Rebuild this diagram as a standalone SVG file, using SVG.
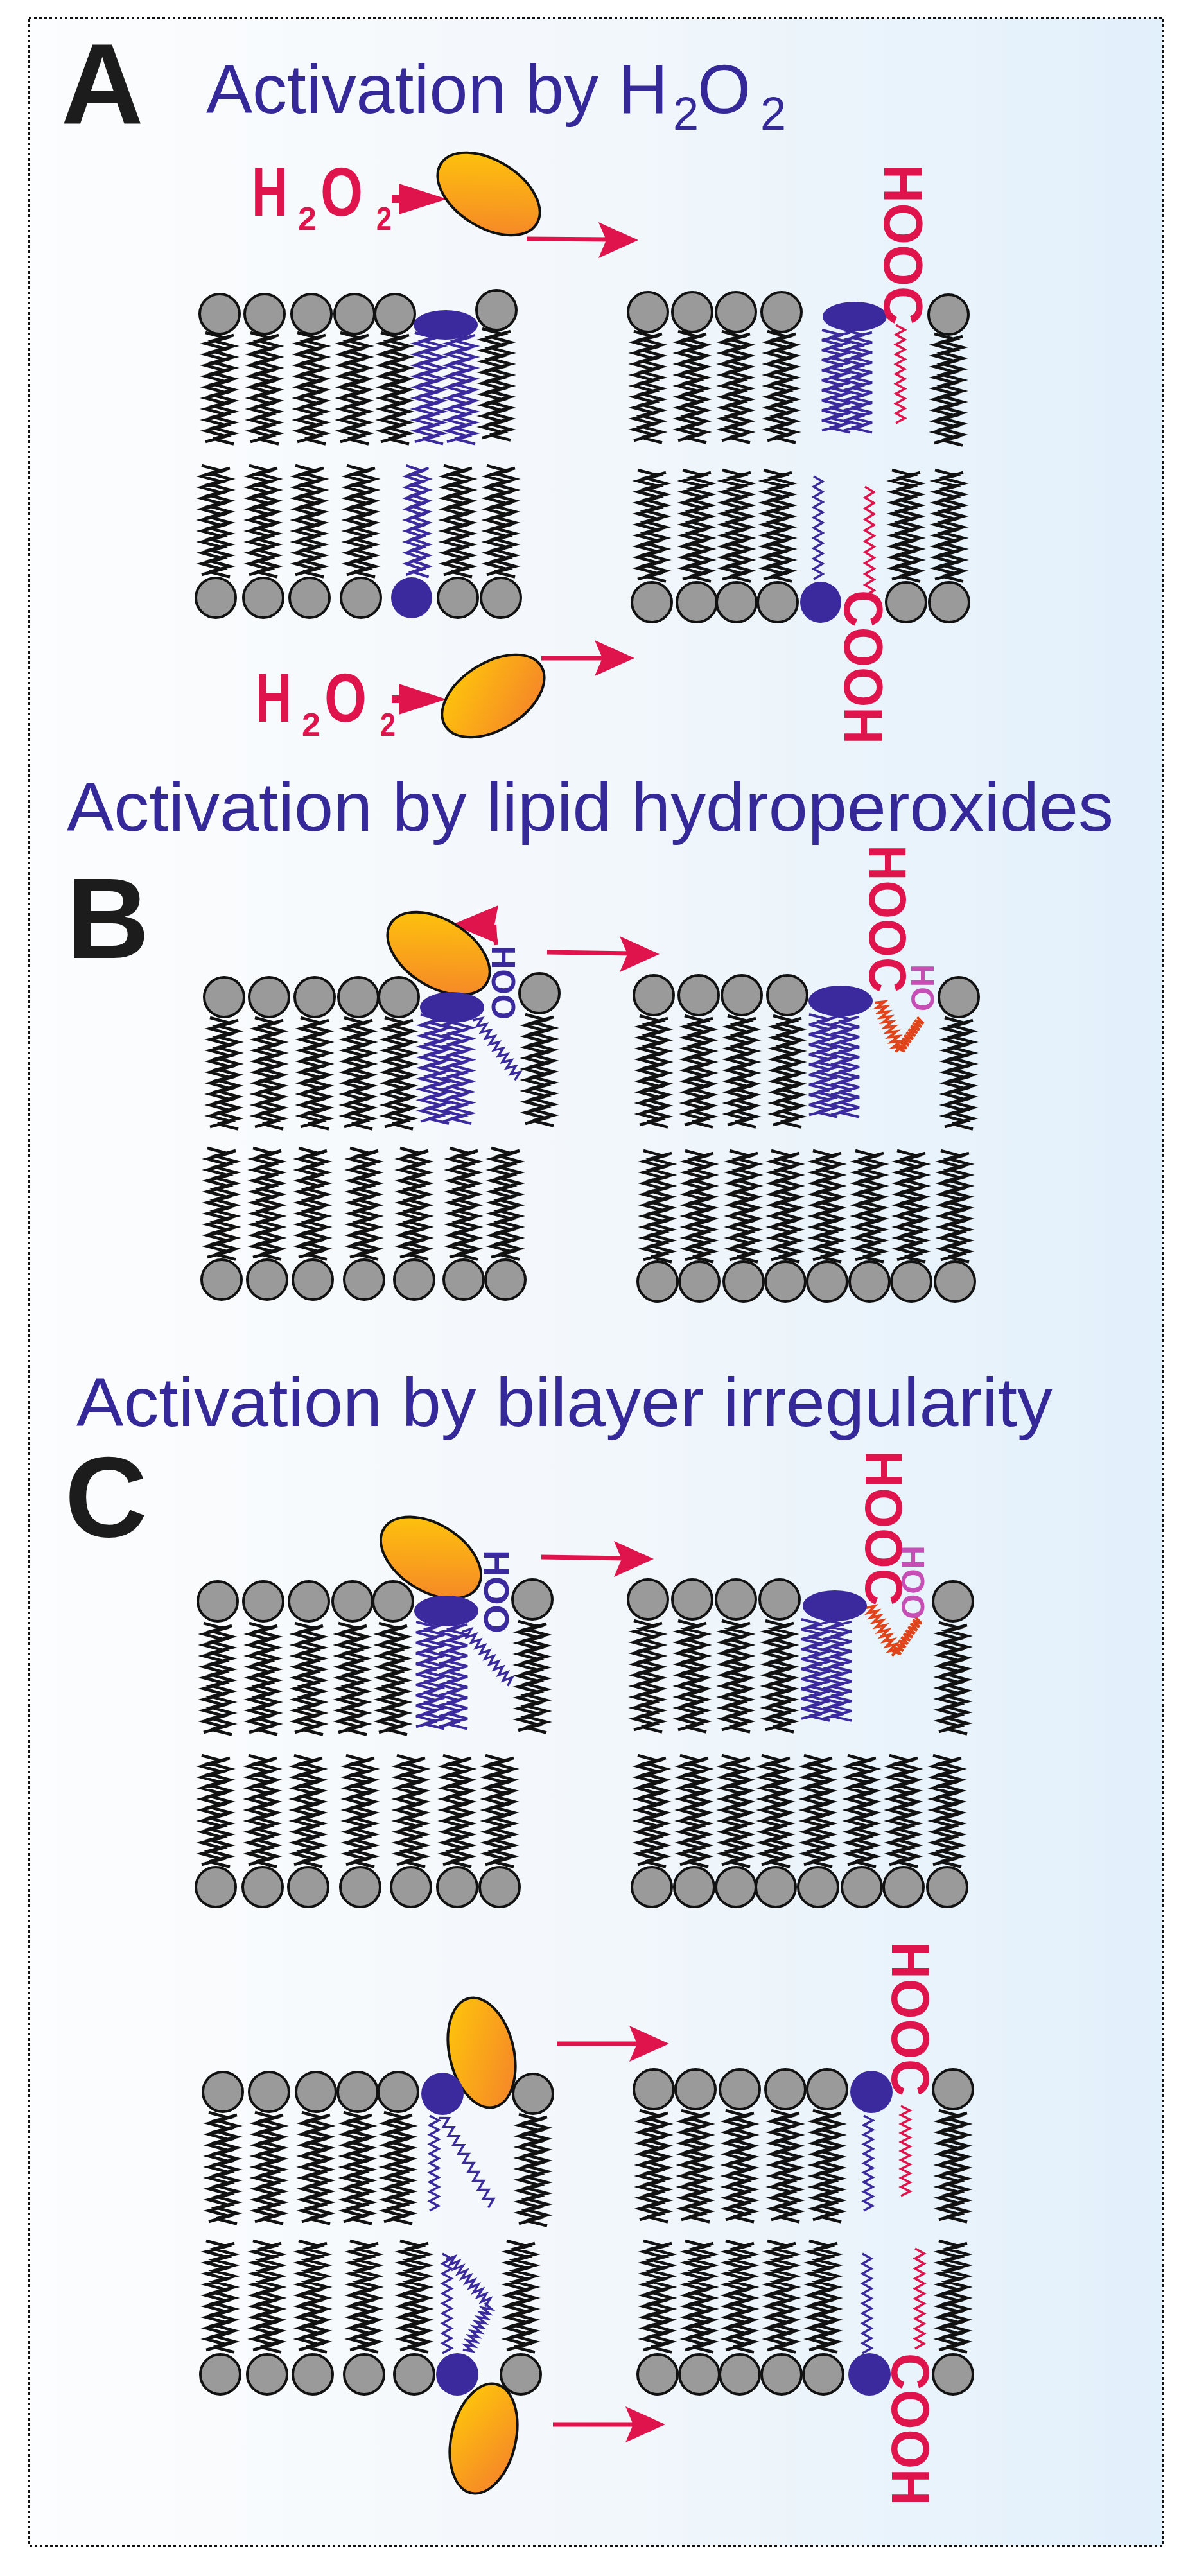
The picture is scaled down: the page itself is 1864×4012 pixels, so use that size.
<svg xmlns="http://www.w3.org/2000/svg" xmlns:xlink="http://www.w3.org/1999/xlink" width="1864" height="4012" viewBox="0 0 1864 4012">
<style>
text{font-family:"Liberation Sans",Arial,sans-serif}
.ttl{fill:#35299a;font-size:107px}
.big{fill:#1c1c1c;font-size:178px;font-weight:bold}
.rd{fill:#e0144c;font-weight:bold}
.pk{fill:#c64fb5;font-weight:bold}
.bl{fill:#3a2a9e;font-weight:bold}
.hd{fill:#9a9a9a;stroke:#111;stroke-width:4}
.bh{fill:#3a2a9e}
.tk{stroke:#111;stroke-width:4.5;fill:none}
.tb{stroke:#3a2a9e;stroke-width:4;fill:none}
.zb{stroke:#3a2a9e;stroke-width:3.5;fill:none}
.zr{stroke:#e0144c;stroke-width:3.5;fill:none}
.zo{stroke:#e0441a;stroke-width:4;fill:none}
.enz{fill:url(#eg);stroke:#111;stroke-width:4}
.al{stroke:#e0144c;stroke-width:7}
.ah{fill:#e0144c}
</style>
<defs>
<linearGradient id="bg" x1="0" y1="0" x2="1" y2="0"><stop offset="0" stop-color="#fcfdfe"/><stop offset="0.5" stop-color="#f2f7fb"/><stop offset="1" stop-color="#e2f0fb"/></linearGradient>
<linearGradient id="eg" x1="0" y1="0" x2="1" y2="1"><stop offset="0" stop-color="#ffcc08"/><stop offset="1" stop-color="#f47e2c"/></linearGradient>
<path id="tl" vector-effect="non-scaling-stroke" d="M-22,0 l32,8.5 l-32,8.5 l32,8.5 l-32,8.5 l32,8.5 l-32,8.5 l32,8.5 l-32,8.5 l32,8.5 l-32,8.5 l32,8.5 l-32,8.5 l32,8.5 l-32,8.5 l32,8.5 l-32,8.5 l32,8.5 l-32,8.5 l32,8.5 l-32,8.5 M22,4 l-32,8.5 l32,8.5 l-32,8.5 l32,8.5 l-32,8.5 l32,8.5 l-32,8.5 l32,8.5 l-32,8.5 l32,8.5 l-32,8.5 l32,8.5 l-32,8.5 l32,8.5 l-32,8.5 l32,8.5 l-32,8.5 l32,8.5 l-32,8.5 l32,8"/>
<path id="tz" vector-effect="non-scaling-stroke" d="M-7,0 l14,5 l-14,5 l14,5 l-14,5 l14,5 l-14,5 l14,5 l-14,5 l14,5 l-14,5 l14,5 l-14,5 l14,5 l-14,5 l14,5 l-14,5 l14,5 l-14,5 l14,5 l-14,5"/>
</defs>
<rect x="45" y="28" width="1766" height="3937" fill="url(#bg)" stroke="#111" stroke-width="4" stroke-dasharray="4 4"/>

<g id="connectors">
<line class="al" x1="820" y1="372" x2="950" y2="373"/><polygon class="ah" points="994,374 932,346 944,374 932,402"/>
<line class="al" x1="843" y1="1025" x2="945" y2="1025"/><polygon class="ah" points="988,1025 926,997 938,1025 926,1053"/>
<line class="al" x1="852" y1="1483" x2="985" y2="1485"/><polygon class="ah" points="1027,1486 965,1458 977,1486 965,1514"/>
<line class="al" x1="843" y1="2425" x2="976" y2="2427"/><polygon class="ah" points="1018,2428 956,2400 968,2428 956,2456"/>
<line class="al" x1="867" y1="3183" x2="1000" y2="3183"/><polygon class="ah" points="1042,3183 980,3155 992,3183 980,3211"/>
<line class="al" x1="861" y1="3776" x2="994" y2="3776"/><polygon class="ah" points="1036,3776 974,3748 986,3776 974,3804"/>
<polygon class="ah" points="610,304 621,304 621,286 696,310 621,334 621,316 610,316"/>
<polygon class="ah" points="610,1083 621,1083 621,1065 695,1089 621,1113 621,1095 610,1095"/>
<polygon class="ah" points="704,1440 776,1410 770,1440 776,1470"/>
<line class="al" x1="770" y1="1440" x2="772" y2="1472" style="stroke-width:6"/>
</g>

<g id="labels">
<text class="big" x="95" y="192">A</text>
<text class="ttl" x="321" y="176" textLength="719" lengthAdjust="spacingAndGlyphs">Activation by H</text>
<text class="ttl" x="1048" y="202" style="font-size:72px">2</text>
<text class="ttl" x="1086" y="176">O</text>
<text class="ttl" x="1184" y="202" style="font-size:72px">2</text>
<text class="big" x="104" y="1492">B</text>
<text class="ttl" x="104" y="1294" textLength="1630" lengthAdjust="spacingAndGlyphs">Activation by lipid hydroperoxides</text>
<text class="big" x="101" y="2393">C</text>
<text class="ttl" x="119" y="2221" textLength="1520" lengthAdjust="spacingAndGlyphs">Activation by bilayer irregularity</text>
</g>

<g id="h2o2-top">
<text class="rd" x="392" y="336" style="font-size:107px" textLength="56" lengthAdjust="spacingAndGlyphs">H</text>
<text class="rd" x="464" y="358" style="font-size:50px" textLength="29" lengthAdjust="spacingAndGlyphs">2</text>
<text class="rd" x="499" y="336" style="font-size:107px" textLength="66" lengthAdjust="spacingAndGlyphs">O</text>
<text class="rd" x="586" y="358" style="font-size:50px" textLength="24" lengthAdjust="spacingAndGlyphs">2</text>
</g>
<g id="h2o2-bottom">
<text class="rd" x="398" y="1124" style="font-size:107px" textLength="56" lengthAdjust="spacingAndGlyphs">H</text>
<text class="rd" x="470" y="1146" style="font-size:50px" textLength="29" lengthAdjust="spacingAndGlyphs">2</text>
<text class="rd" x="505" y="1124" style="font-size:107px" textLength="66" lengthAdjust="spacingAndGlyphs">O</text>
<text class="rd" x="592" y="1146" style="font-size:50px" textLength="24" lengthAdjust="spacingAndGlyphs">2</text>
</g>

<g id="enzymes">
<ellipse class="enz" cx="761" cy="302" rx="88" ry="52" transform="rotate(32 761 302)"/>
<ellipse class="enz" cx="768" cy="1084" rx="88" ry="52" transform="rotate(-32 768 1084)"/>
<ellipse class="enz" cx="683" cy="1485" rx="88" ry="52" transform="rotate(32 683 1485)"/>
<ellipse class="enz" cx="671" cy="2426" rx="86" ry="52" transform="rotate(32 671 2426)"/>
<ellipse class="enz" cx="750" cy="3197" rx="50" ry="87" transform="rotate(-13 750 3197)"/>
<ellipse class="enz" cx="753" cy="3798" rx="50" ry="87" transform="rotate(13 753 3798)"/>
</g>

<!-- A left bilayer -->
<g id="bilayer-A-left">
<g class="tk">
<use href="#tl" transform="translate(342,518)"/><use href="#tl" transform="translate(412,518)"/><use href="#tl" transform="translate(485,518)"/><use href="#tl" transform="translate(552,518)"/><use href="#tl" transform="translate(615,518)"/><use href="#tl" transform="translate(773,512)"/>
<use href="#tl" transform="translate(336,725)"/><use href="#tl" transform="translate(410,725)"/><use href="#tl" transform="translate(482,725)"/><use href="#tl" transform="translate(562,725)"/><use href="#tl" transform="translate(713,725)"/><use href="#tl" transform="translate(780,725)"/>
</g>
<g class="tb">
<use href="#tl" transform="translate(668,518)"/><use href="#tl" transform="translate(718,518)"/>
<use href="#tl" transform="translate(650,725) scale(0.8,1)"/>
</g>
<g class="hd">
<circle cx="342" cy="489" r="31"/><circle cx="412" cy="489" r="31"/><circle cx="485" cy="489" r="31"/><circle cx="552" cy="489" r="31"/><circle cx="615" cy="489" r="31"/><circle cx="773" cy="483" r="31"/>
<circle cx="336" cy="931" r="31"/><circle cx="410" cy="931" r="31"/><circle cx="482" cy="931" r="31"/><circle cx="562" cy="931" r="31"/><circle cx="713" cy="931" r="31"/><circle cx="780" cy="931" r="31"/>
</g>
<ellipse class="bh" cx="694" cy="506" rx="50" ry="23"/>
<circle class="bh" cx="641" cy="931" r="32"/>
</g>

<!-- A right bilayer -->
<g id="bilayer-A-right">
<g class="tk">
<use href="#tl" transform="translate(1009,516)"/><use href="#tl" transform="translate(1078,516)"/><use href="#tl" transform="translate(1146,516)"/><use href="#tl" transform="translate(1217,516)"/><use href="#tl" transform="translate(1477,520)"/>
<use href="#tl" transform="translate(1015,732)"/><use href="#tl" transform="translate(1085,732)"/><use href="#tl" transform="translate(1147,732)"/><use href="#tl" transform="translate(1211,732)"/><use href="#tl" transform="translate(1411,732)"/><use href="#tl" transform="translate(1478,732)"/>
</g>
<g class="tb"><use href="#tl" transform="translate(1302,514) scale(1,0.92)"/><use href="#tl" transform="translate(1336,514) scale(1,0.92)"/></g>
<use class="zr" href="#tz" transform="translate(1402,506) scale(1,1.53)"/>
<use class="zb" href="#tz" transform="translate(1274,742) scale(1,1.6)"/>
<use class="zr" href="#tz" transform="translate(1354,758) scale(1,1.7)"/>
<g class="hd">
<circle cx="1009" cy="486" r="31"/><circle cx="1078" cy="486" r="31"/><circle cx="1146" cy="486" r="31"/><circle cx="1217" cy="486" r="31"/><circle cx="1477" cy="490" r="31"/>
<circle cx="1015" cy="938" r="31"/><circle cx="1085" cy="938" r="31"/><circle cx="1147" cy="938" r="31"/><circle cx="1211" cy="938" r="31"/><circle cx="1411" cy="938" r="31"/><circle cx="1478" cy="938" r="31"/>
</g>
<ellipse class="bh" cx="1331" cy="493" rx="50" ry="23"/>
<circle class="bh" cx="1278" cy="938" r="32"/>
<text class="rd" transform="translate(1377,256) rotate(90)" style="font-size:86px" textLength="250" lengthAdjust="spacingAndGlyphs">HOOC</text>
<text class="rd" transform="translate(1315,919) rotate(90)" style="font-size:86px" textLength="240" lengthAdjust="spacingAndGlyphs">COOH</text>
</g>

<!-- B left -->
<g id="bilayer-B-left">
<g class="tk">
<use href="#tl" transform="translate(349,1585)"/><use href="#tl" transform="translate(419,1585)"/><use href="#tl" transform="translate(490,1585)"/><use href="#tl" transform="translate(558,1585)"/><use href="#tl" transform="translate(621,1585)"/><use href="#tl" transform="translate(840,1580)"/>
<use href="#tl" transform="translate(345,1788)"/><use href="#tl" transform="translate(416,1788)"/><use href="#tl" transform="translate(487,1788)"/><use href="#tl" transform="translate(567,1788)"/><use href="#tl" transform="translate(645,1788)"/><use href="#tl" transform="translate(722,1788)"/><use href="#tl" transform="translate(787,1788)"/>
</g>
<g class="tb"><use href="#tl" transform="translate(677,1580) scale(1,0.98)"/><use href="#tl" transform="translate(712,1580) scale(1,0.98)"/></g>
<use class="zb" href="#tz" transform="translate(742,1585) rotate(-35) scale(1,1.14)"/>
<g class="hd">
<circle cx="349" cy="1553" r="31"/><circle cx="419" cy="1553" r="31"/><circle cx="490" cy="1553" r="31"/><circle cx="558" cy="1553" r="31"/><circle cx="621" cy="1553" r="31"/><circle cx="840" cy="1547" r="31"/>
<circle cx="345" cy="1993" r="31"/><circle cx="416" cy="1993" r="31"/><circle cx="487" cy="1993" r="31"/><circle cx="567" cy="1993" r="31"/><circle cx="645" cy="1993" r="31"/><circle cx="722" cy="1993" r="31"/><circle cx="787" cy="1993" r="31"/>
</g>
<ellipse class="bh" cx="704" cy="1569" rx="50" ry="24"/>
<text class="bl" transform="translate(766,1473) rotate(90)" style="font-size:52px" textLength="115" lengthAdjust="spacingAndGlyphs">HOO</text>
</g>

<!-- B right -->
<g id="bilayer-B-right">
<g class="tk">
<use href="#tl" transform="translate(1018,1582)"/><use href="#tl" transform="translate(1088,1582)"/><use href="#tl" transform="translate(1155,1582)"/><use href="#tl" transform="translate(1226,1582)"/><use href="#tl" transform="translate(1493,1585)"/>
<use href="#tl" transform="translate(1024,1792)"/><use href="#tl" transform="translate(1089,1792)"/><use href="#tl" transform="translate(1158,1792)"/><use href="#tl" transform="translate(1223,1792)"/><use href="#tl" transform="translate(1288,1792)"/><use href="#tl" transform="translate(1354,1792)"/><use href="#tl" transform="translate(1419,1792)"/><use href="#tl" transform="translate(1487,1792)"/>
</g>
<g class="tb"><use href="#tl" transform="translate(1282,1580) scale(1,0.92)"/><use href="#tl" transform="translate(1316,1580) scale(1,0.92)"/></g>
<use class="zo" href="#tz" transform="translate(1369,1559) rotate(-22.5) scale(1,0.83)"/>
<use class="zo" href="#tz" transform="translate(1434,1588) rotate(34.5) scale(1,0.58)"/>
<g class="hd">
<circle cx="1018" cy="1550" r="31"/><circle cx="1088" cy="1550" r="31"/><circle cx="1155" cy="1550" r="31"/><circle cx="1226" cy="1550" r="31"/><circle cx="1493" cy="1553" r="31"/>
<circle cx="1024" cy="1996" r="31"/><circle cx="1089" cy="1996" r="31"/><circle cx="1158" cy="1996" r="31"/><circle cx="1223" cy="1996" r="31"/><circle cx="1288" cy="1996" r="31"/><circle cx="1354" cy="1996" r="31"/><circle cx="1419" cy="1996" r="31"/><circle cx="1487" cy="1996" r="31"/>
</g>
<ellipse class="bh" cx="1309" cy="1559" rx="50" ry="24"/>
<text class="rd" transform="translate(1354,1316) rotate(90)" style="font-size:82px" textLength="230" lengthAdjust="spacingAndGlyphs">HOOC</text>
<text class="pk" transform="translate(1419,1502) rotate(90)" style="font-size:50px" textLength="73" lengthAdjust="spacingAndGlyphs">HO</text>
</g>

<!-- C top left -->
<g id="bilayer-C1-left">
<g class="tk">
<use href="#tl" transform="translate(339,2528)"/><use href="#tl" transform="translate(410,2528)"/><use href="#tl" transform="translate(481,2528)"/><use href="#tl" transform="translate(549,2528)"/><use href="#tl" transform="translate(612,2528)"/><use href="#tl" transform="translate(829,2525)"/>
<use href="#tl" transform="translate(336,2734)"/><use href="#tl" transform="translate(409,2734)"/><use href="#tl" transform="translate(480,2734)"/><use href="#tl" transform="translate(561,2734)"/><use href="#tl" transform="translate(640,2734)"/><use href="#tl" transform="translate(712,2734)"/><use href="#tl" transform="translate(778,2734)"/>
</g>
<g class="tb"><use href="#tl" transform="translate(670,2526) scale(1,0.96)"/><use href="#tl" transform="translate(706,2526) scale(1,0.96)"/></g>
<use class="zb" href="#tz" transform="translate(725,2537) rotate(-40) scale(1,1.1)"/>
<g class="hd">
<circle cx="339" cy="2494" r="31"/><circle cx="410" cy="2494" r="31"/><circle cx="481" cy="2494" r="31"/><circle cx="549" cy="2494" r="31"/><circle cx="612" cy="2494" r="31"/><circle cx="829" cy="2491" r="31"/>
<circle cx="336" cy="2939" r="31"/><circle cx="409" cy="2939" r="31"/><circle cx="480" cy="2939" r="31"/><circle cx="561" cy="2939" r="31"/><circle cx="640" cy="2939" r="31"/><circle cx="712" cy="2939" r="31"/><circle cx="778" cy="2939" r="31"/>
</g>
<ellipse class="bh" cx="695" cy="2509" rx="50" ry="24"/>
<text class="bl" transform="translate(754,2414) rotate(90)" style="font-size:55px" textLength="130" lengthAdjust="spacingAndGlyphs">HOO</text>
</g>

<!-- C top right -->
<g id="bilayer-C1-right">
<g class="tk">
<use href="#tl" transform="translate(1009,2524)"/><use href="#tl" transform="translate(1078,2524)"/><use href="#tl" transform="translate(1146,2524)"/><use href="#tl" transform="translate(1214,2524)"/><use href="#tl" transform="translate(1484,2527)"/>
<use href="#tl" transform="translate(1015,2734)"/><use href="#tl" transform="translate(1081,2734)"/><use href="#tl" transform="translate(1146,2734)"/><use href="#tl" transform="translate(1208,2734)"/><use href="#tl" transform="translate(1274,2734)"/><use href="#tl" transform="translate(1342,2734)"/><use href="#tl" transform="translate(1407,2734)"/><use href="#tl" transform="translate(1475,2734)"/>
</g>
<g class="tb"><use href="#tl" transform="translate(1270,2522) scale(1,0.91)"/><use href="#tl" transform="translate(1304,2522) scale(1,0.91)"/></g>
<use class="zo" href="#tz" transform="translate(1354,2501) rotate(-29) scale(1,0.85)"/>
<use class="zo" href="#tz" transform="translate(1431,2522) rotate(34) scale(1,0.64)"/>
<g class="hd">
<circle cx="1009" cy="2491" r="31"/><circle cx="1078" cy="2491" r="31"/><circle cx="1146" cy="2491" r="31"/><circle cx="1214" cy="2491" r="31"/><circle cx="1484" cy="2494" r="31"/>
<circle cx="1015" cy="2939" r="31"/><circle cx="1081" cy="2939" r="31"/><circle cx="1146" cy="2939" r="31"/><circle cx="1208" cy="2939" r="31"/><circle cx="1274" cy="2939" r="31"/><circle cx="1342" cy="2939" r="31"/><circle cx="1407" cy="2939" r="31"/><circle cx="1475" cy="2939" r="31"/>
</g>
<ellipse class="bh" cx="1300" cy="2501" rx="50" ry="24"/>
<text class="rd" transform="translate(1348,2259) rotate(90)" style="font-size:82px" textLength="242" lengthAdjust="spacingAndGlyphs">HOOC</text>
<text class="pk" transform="translate(1404,2407) rotate(90)" style="font-size:50px" textLength="115" lengthAdjust="spacingAndGlyphs">HOO</text>
</g>

<!-- C bottom left -->
<g id="bilayer-C2-left">
<g class="tk">
<use href="#tl" transform="translate(347,3290)"/><use href="#tl" transform="translate(419,3290)"/><use href="#tl" transform="translate(492,3290)"/><use href="#tl" transform="translate(557,3290)"/><use href="#tl" transform="translate(620,3290)"/><use href="#tl" transform="translate(830,3293)"/>
<use href="#tl" transform="translate(343,3490)"/><use href="#tl" transform="translate(416,3490)"/><use href="#tl" transform="translate(487,3490)"/><use href="#tl" transform="translate(567,3490)"/><use href="#tl" transform="translate(645,3490)"/><use href="#tl" transform="translate(811,3490)"/>
</g>
<use class="zb" href="#tz" transform="translate(676,3295) scale(1,1.48)"/>
<use class="zb" href="#tz" transform="translate(689,3295) rotate(-29) scale(1,1.6)"/>
<use class="zb" href="#tz" transform="translate(696,3510) scale(1,1.55)"/>
<use class="zb" href="#tz" transform="translate(700,3515) rotate(-40) scale(1,0.95)"/>
<use class="zb" href="#tz" transform="translate(761,3590) rotate(25) scale(1,0.8)"/>
<g class="hd">
<circle cx="347" cy="3258" r="31"/><circle cx="419" cy="3258" r="31"/><circle cx="492" cy="3258" r="31"/><circle cx="557" cy="3258" r="31"/><circle cx="620" cy="3258" r="31"/><circle cx="830" cy="3261" r="31"/>
<circle cx="343" cy="3698" r="31"/><circle cx="416" cy="3698" r="31"/><circle cx="487" cy="3698" r="31"/><circle cx="567" cy="3698" r="31"/><circle cx="645" cy="3698" r="31"/><circle cx="811" cy="3698" r="31"/>
</g>
<circle class="bh" cx="689" cy="3261" r="33"/>
<circle class="bh" cx="712" cy="3698" r="33"/>
</g>

<!-- C bottom right -->
<g id="bilayer-C2-right">
<g class="tk">
<use href="#tl" transform="translate(1018,3287)"/><use href="#tl" transform="translate(1083,3287)"/><use href="#tl" transform="translate(1152,3287)"/><use href="#tl" transform="translate(1223,3287)"/><use href="#tl" transform="translate(1288,3287)"/><use href="#tl" transform="translate(1484,3287)"/>
<use href="#tl" transform="translate(1024,3490)"/><use href="#tl" transform="translate(1089,3490)"/><use href="#tl" transform="translate(1152,3490)"/><use href="#tl" transform="translate(1217,3490)"/><use href="#tl" transform="translate(1282,3490)"/><use href="#tl" transform="translate(1484,3490)"/>
</g>
<use class="zb" href="#tz" transform="translate(1352,3295) scale(1,1.48)"/>
<use class="zr" href="#tz" transform="translate(1410,3280) scale(1,1.4)"/>
<use class="zb" href="#tz" transform="translate(1350,3510) scale(1,1.55)"/>
<use class="zr" href="#tz" transform="translate(1432,3502) scale(1,1.56)"/>
<g class="hd">
<circle cx="1018" cy="3254" r="31"/><circle cx="1083" cy="3254" r="31"/><circle cx="1152" cy="3254" r="31"/><circle cx="1223" cy="3254" r="31"/><circle cx="1288" cy="3254" r="31"/><circle cx="1484" cy="3254" r="31"/>
<circle cx="1024" cy="3698" r="31"/><circle cx="1089" cy="3698" r="31"/><circle cx="1152" cy="3698" r="31"/><circle cx="1217" cy="3698" r="31"/><circle cx="1282" cy="3698" r="31"/><circle cx="1484" cy="3698" r="31"/>
</g>
<circle class="bh" cx="1357" cy="3258" r="33"/>
<circle class="bh" cx="1354" cy="3698" r="33"/>
<text class="rd" transform="translate(1389,3024) rotate(90)" style="font-size:84px" textLength="241" lengthAdjust="spacingAndGlyphs">HOOC</text>
<text class="rd" transform="translate(1389,3665) rotate(90)" style="font-size:84px" textLength="237" lengthAdjust="spacingAndGlyphs">COOH</text>
</g>
</svg>
